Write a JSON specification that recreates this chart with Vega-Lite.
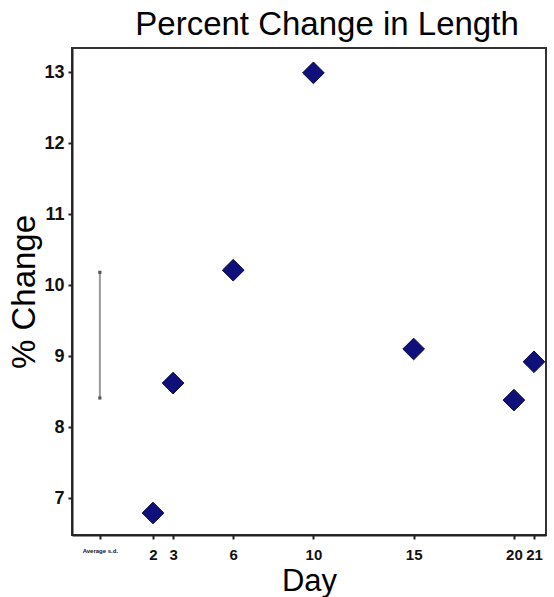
{
  "$schema": "https://vega.github.io/schema/vega-lite/v6.json",
  "autosize": {"type": "none"},
  "padding": {"left": 72, "top": 48, "right": 8, "bottom": 62},
  "width": 474,
  "height": 487,
  "background": "white",
  "title": {
    "text": "Percent Change in Length",
    "font": "Liberation Sans",
    "fontSize": 33,
    "fontWeight": "normal",
    "color": "black",
    "anchor": "middle",
    "dx": 18,
    "offset": 6
  },
  "config": {
    "view": {"stroke": "#333333", "strokeWidth": 2},
    "axis": {
      "labelFont": "Liberation Sans",
      "titleFont": "Liberation Sans",
      "labelColor": "#111111",
      "titleColor": "black",
      "domainColor": "#222222",
      "domainWidth": 2,
      "tickColor": "#222222",
      "tickWidth": 2,
      "tickSize": 4,
      "grid": false
    }
  },
  "datasets": {
    "points": [
      {"day": 2, "change": 6.79},
      {"day": 3, "change": 8.62},
      {"day": 6, "change": 10.21},
      {"day": 10, "change": 12.99},
      {"day": 15, "change": 9.1},
      {"day": 20, "change": 8.38},
      {"day": 21, "change": 8.92}
    ],
    "sd": [
      {"day": -0.65, "low": 8.41, "high": 10.18}
    ]
  },
  "layer": [
    {
      "data": {"name": "sd"},
      "mark": {"type": "rule", "color": "#9a9a9a", "strokeWidth": 2},
      "encoding": {
        "x": {
          "field": "day",
          "type": "quantitative",
          "scale": {"domain": [-2.04, 21.6], "nice": false, "zero": false},
          "axis": {
            "values": [-0.65, 2, 3, 6, 10, 15, 20, 21],
            "labelExpr": "datum.value < 0 ? 'Average s.d.' : datum.label",
            "labelFontSize": {"condition": {"test": "datum.value < 0", "value": 6}, "value": 15},
            "labelFontWeight": "bold",
            "labelPadding": 8,
            "labelFlush": false,
            "labelOverlap": false,
            "title": "Day",
            "titleFontSize": 31,
            "titleFontWeight": "normal",
            "titlePadding": 4
          }
        },
        "y": {
          "field": "low",
          "type": "quantitative",
          "scale": {"domain": [6.48, 13.34], "nice": false, "zero": false},
          "axis": {
            "values": [7, 8, 9, 10, 11, 12, 13],
            "format": "d",
            "labelFontSize": 18,
            "labelFontWeight": "bold",
            "labelPadding": 4,
            "title": "% Change",
            "titleFontSize": 33,
            "titleFontWeight": "normal",
            "titlePadding": 2
          }
        },
        "y2": {"field": "high"}
      }
    },
    {
      "data": {"name": "sd"},
      "mark": {"type": "point", "shape": "square", "filled": true, "size": 10, "color": "#555555", "opacity": 1},
      "encoding": {
        "x": {"field": "day", "type": "quantitative"},
        "y": {"field": "low", "type": "quantitative"}
      }
    },
    {
      "data": {"name": "sd"},
      "mark": {"type": "point", "shape": "square", "filled": true, "size": 10, "color": "#555555", "opacity": 1},
      "encoding": {
        "x": {"field": "day", "type": "quantitative"},
        "y": {"field": "high", "type": "quantitative"}
      }
    },
    {
      "data": {"name": "points"},
      "mark": {"type": "point", "shape": "diamond", "filled": true, "size": 470, "color": "#10107a", "stroke": "#0a0a40", "strokeWidth": 1, "opacity": 1},
      "encoding": {
        "x": {"field": "day", "type": "quantitative"},
        "y": {"field": "change", "type": "quantitative"}
      }
    }
  ]
}
